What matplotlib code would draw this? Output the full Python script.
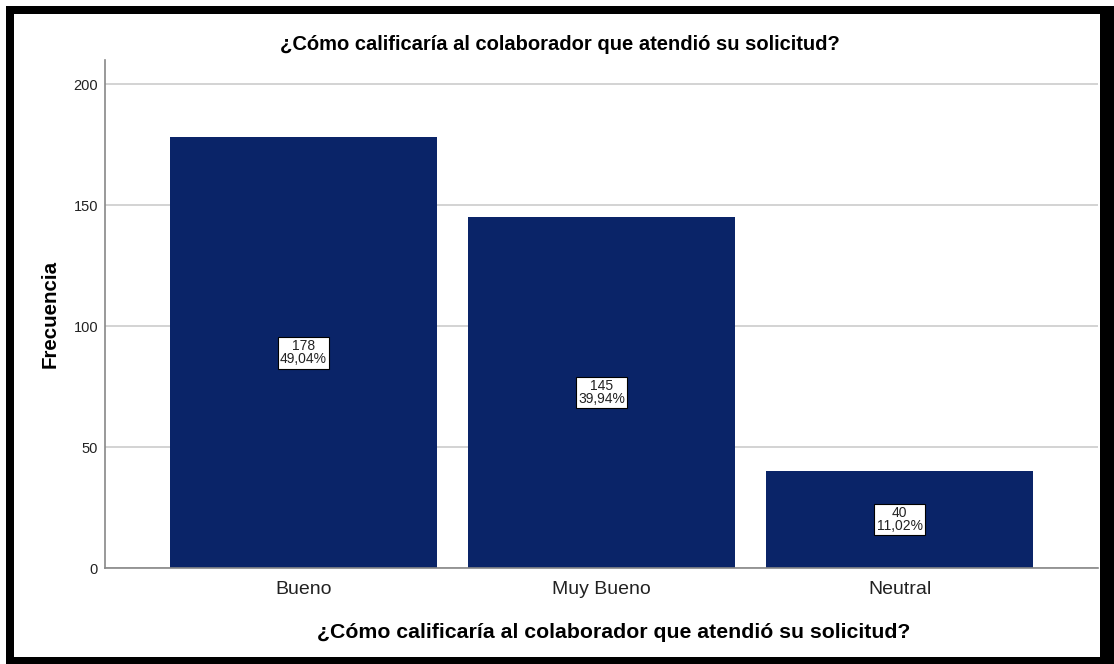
import matplotlib
matplotlib.use('Agg')
import matplotlib.pyplot as plt
from matplotlib.patches import Rectangle

# datos del gráfico
categorias = ['Bueno', 'Muy Bueno', 'Neutral']
frecuencias = [178, 145, 40]
porcentajes = ['49,04%', '39,94%', '11,02%']
yticks = [0, 50, 100, 150, 200]
titulo = '¿Cómo calificaría al colaborador que atendió su solicitud?'

plt.rcParams['font.family'] = ['Liberation Sans', 'DejaVu Sans']

W, H = 1114, 664
fig = plt.figure(figsize=(W / 100, H / 100), dpi=100)

# marco negro con sombra (como la captura de SPSS)
fig.patches.append(Rectangle((6 / W, 0), (W - 6) / W, (H - 6) / H,
                             transform=fig.transFigure, facecolor='black',
                             edgecolor='none', zorder=-2))
fig.patches.append(Rectangle((14 / W, 7 / H), (1100 - 14) / W, (650 - 7) / H,
                             transform=fig.transFigure, facecolor='white',
                             edgecolor='none', zorder=-1))

ax = fig.add_axes([105 / W, (H - 568) / H, (1098 - 105) / W, (568 - 60) / H])
ax.set_facecolor('none')

x = range(len(categorias))
ax.bar(x, frecuencias, width=0.896, color='#0a2468', zorder=2)

for i, (f, p) in enumerate(zip(frecuencias, porcentajes)):
    ax.text(i, f / 2, f'{f}\n{p}', ha='center', va='center', fontsize=10,
            linespacing=0.95, zorder=3, color='#222222',
            bbox=dict(boxstyle='square,pad=0.15', facecolor='white',
                      edgecolor='black', linewidth=0.8))

ax.set_xlim(-0.666, 2.666)
ax.set_ylim(0, 210)
ax.set_yticks(yticks)
ax.set_xticks(list(x))
ax.set_xticklabels(categorias, fontsize=14, color='#222222')
ax.tick_params(axis='both', length=0)
ax.tick_params(axis='y', labelsize=10.5, pad=5, labelcolor='#222222')
ax.tick_params(axis='x', pad=9)
ax.yaxis.grid(True, color='#cccccc', linewidth=1.2, zorder=0)
ax.set_axisbelow(True)

for s in ['top', 'right']:
    ax.spines[s].set_visible(False)
for s in ['left', 'bottom']:
    ax.spines[s].set_color('#888888')
    ax.spines[s].set_linewidth(1.2)

ax.set_ylabel('Frecuencia', fontsize=14.8, fontweight='bold', labelpad=10)
ax.set_xlabel(titulo, fontsize=15.3, fontweight='bold')
ax.xaxis.set_label_coords(0.5126, -0.108)
fig.text(560 / W, (H - 44) / H, titulo, ha='center', va='center',
         fontsize=14.5, fontweight='bold')

fig.savefig('out.png', dpi=100)
